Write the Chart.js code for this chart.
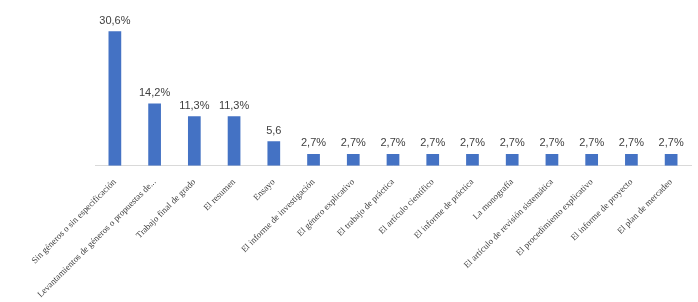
<!DOCTYPE html>
<html>
<head>
<meta charset="utf-8">
<script src="https://cdn.jsdelivr.net/npm/chart.js@4.4.0/dist/chart.umd.min.js"></script>
<style>
  html, body { margin: 0; padding: 0; background: #ffffff; }
  #wrap { width: 698px; height: 302px; }
</style>
</head>
<body>
<div id="wrap"><canvas id="chartBar"></canvas></div>
<script>
// Categorias (géneros)
const categorias = [
  'Sin géneros o sin especificación',
  'Levantamientos de géneros o propuestas de...',
  'Trabajo final de grado',
  'El resumen',
  'Ensayo',
  'El informe de investigación',
  'El género explicativo',
  'El trabajo de práctica',
  'El artículo científico',
  'El informe de práctica',
  'La monografía',
  'El artículo de revisión sistemática',
  'El procedimiento explicativo',
  'El informe de proyecto',
  'El plan de mercadeo'
];
// Porcentajes
const valores = [30.6, 14.2, 11.3, 11.3, 5.6, 2.7, 2.7, 2.7, 2.7, 2.7, 2.7, 2.7, 2.7, 2.7, 2.7];
// Etiquetas tal como aparecen
const etiquetas = ['30,6%', '14,2%', '11,3%', '11,3%', '5,6', '2,7%', '2,7%', '2,7%', '2,7%', '2,7%', '2,7%', '2,7%', '2,7%', '2,7%', '2,7%'];

// plugin sencillo para las etiquetas de datos
const etiquetasPlugin = {
  id: 'etiquetas',
  afterDatasetsDraw(chart) {
    const ctx = chart.ctx;
    const meta = chart.getDatasetMeta(0);
    ctx.save();
    ctx.font = '11px "Liberation Sans", Arial, sans-serif';
    ctx.fillStyle = '#404040';
    ctx.textAlign = 'center';
    ctx.textBaseline = 'bottom';
    meta.data.forEach(function(bar, i) {
      ctx.fillText(etiquetas[i], bar.x, bar.y - 5);
    });
    ctx.restore();
  }
};

const ctxBar = document.getElementById('chartBar').getContext('2d');
const barChart = new Chart(ctxBar, {
  type: 'bar',
  data: {
    labels: categorias,
    datasets: [{
      data: valores,
      backgroundColor: '#4472C4',
      categoryPercentage: 1,
      barPercentage: 0.32
    }]
  },
  options: {
    responsive: true,
    maintainAspectRatio: false,
    animation: false,
    layout: {
      padding: { left: 95, right: 7, top: 12, bottom: -1 }
    },
    plugins: {
      legend: { display: false },
      tooltip: { enabled: false }
    },
    scales: {
      x: {
        grid: { display: false },
        border: { display: true, color: '#d9d9d9', width: 1 },
        ticks: {
          autoSkip: false,
          maxRotation: 45,
          minRotation: 45,
          color: '#404040',
          font: { family: '"Liberation Serif", "Times New Roman", serif', size: 9 }
        }
      },
      y: {
        display: false,
        min: 0,
        max: 35
      }
    }
  },
  plugins: [etiquetasPlugin]
});
</script>
</body>
</html>
